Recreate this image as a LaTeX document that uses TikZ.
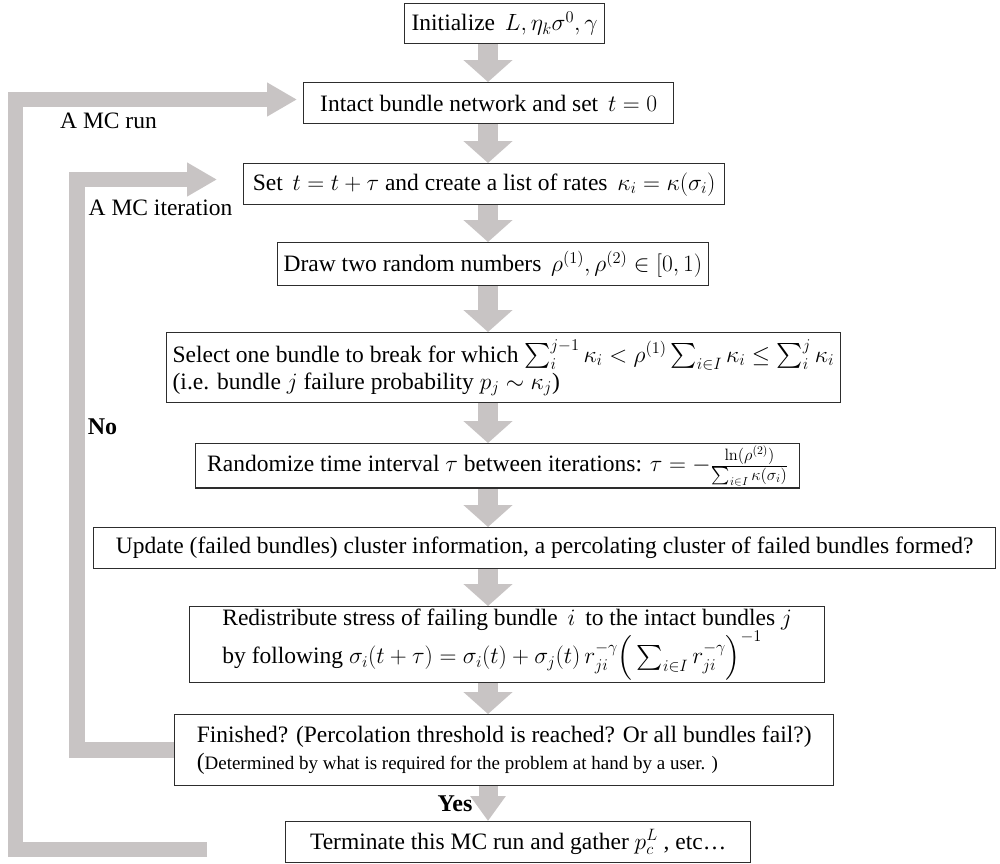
\RequirePackage{fix-cm}
\documentclass[tikz,border=0pt]{standalone}
\usepackage{amsmath}
\usepackage[no-math]{fontspec}
\setmainfont{Liberation Serif}
\usetikzlibrary{arrows.meta,backgrounds}
\definecolor{arrowgray}{RGB}{200,196,196}
\definecolor{boxline}{RGB}{45,45,45}
\tikzset{
  box/.style={draw=boxline, line width=1.3pt, anchor=north west, inner xsep=6pt, inner ysep=2pt,
    font=\fontsize{23.5}{27}\selectfont},
  flow/.style={draw=arrowgray, line width=20pt, -{Triangle[width=48pt,length=22pt]}},
  lastflow/.style={draw=arrowgray, line width=19pt, -{Triangle[width=34pt,length=25pt]}},
  loopbar/.style={draw=arrowgray, line width=15.5pt, line join=miter, -{Triangle[width=32pt,length=30pt]}},
  lbl/.style={font=\fontsize{23.5}{27}\selectfont},
  boldlbl/.style={font=\fontsize{24}{27}\selectfont\bfseries},
}
\begin{document}
\begin{tikzpicture}[x=1pt,y=-1pt]
\useasboundingbox (0,0) rectangle (1000,863);
% boxes
\node[box, minimum width=200pt, minimum height=40pt] (init) at (404,3) {Initialize $\,L,\eta_k\sigma^0,\gamma$};
\node[box, minimum width=370pt, minimum height=41pt] (intact) at (303,82) {Intact bundle network and set $\,t=0$};
\node[box, minimum width=481pt, minimum height=41pt] (set) at (243,163) {Set $\,t=t+\tau$ and create a list of rates $\,\kappa_i=\kappa(\sigma_i)$};
\node[box, minimum width=420pt, minimum height=43pt] (drawn) at (277,242) {Draw two random numbers $\,\rho^{(1)},\rho^{(2)}\in[0,1)$};
\node[box, minimum width=672pt, minimum height=70pt, align=left] (select) at (166,332) {Select one bundle to break for which $\sum_i^{j-1}\kappa_i<\rho^{(1)}\sum_{i\in I}\kappa_i\le\sum_i^{j}\kappa_i$\\(i.e. bundle $j$ failure probability $p_j\sim\kappa_j$)};
\node[box, minimum width=604pt, minimum height=41pt] (rand) at (195,443) {Randomize time interval $\tau$ between iterations: $\tau=-\frac{\ln(\rho^{(2)})}{\sum_{i\in I}\kappa(\sigma_i)}$};
\node[box, minimum width=902pt, minimum height=41pt] (update) at (93,527) {Update (failed bundles) cluster information, a percolating cluster of failed bundles formed?};
\node[box, minimum width=635pt, minimum height=70pt, align=left] (redis) at (189,606) {Redistribute stress of failing bundle $\,i\,$ to the intact bundles $j$\\by following $\sigma_i(t+\tau)=\sigma_i(t)+\sigma_j(t)\,r_{ji}^{-\gamma}\Big(\sum_{i\in I}r_{ji}^{-\gamma}\Big)^{-1}$};
\node[box, minimum width=659pt, minimum height=71pt, align=left] (fin) at (174,714) {Finished? (Percolation threshold is reached? Or all bundles fail?)\\({\fontsize{19}{23}\selectfont Determined by what is required for the problem at hand by a user. )}};
\node[box, minimum width=465pt, minimum height=41pt] (term) at (285,821) {Terminate this MC run and gather $p_c^L$ , etc…};
% coordinates
\coordinate (ax) at (488,0);
\coordinate (itCorner) at (77,179.5);
\coordinate (itTip) at (217,179.5);
\coordinate (runEnd) at (207,849.5);
\coordinate (runCorner) at (15.5,99.5);
\coordinate (runTip) at (297,99.5);
% connectors
\begin{scope}[on background layer]
\draw[flow] (init.south -| ax) -- (intact.north -| ax);
\draw[flow] (intact.south -| ax) -- (set.north -| ax);
\draw[flow] (set.south -| ax) -- (drawn.north -| ax);
\draw[flow] (drawn.south -| ax) -- (select.north -| ax);
\draw[flow] (select.south -| ax) -- (rand.north -| ax);
\draw[flow] (rand.south -| ax) -- (update.north -| ax);
\draw[flow] (update.south -| ax) -- (redis.north -| ax);
\draw[flow] (redis.south -| ax) -- (fin.north -| ax);
\draw[lastflow] (fin.south -| ax) -- (term.north -| ax);
\draw[loopbar] (fin.west) -| (itCorner) -- (itTip);
\draw[loopbar] (runEnd) -| (runCorner) -- (runTip);
\end{scope}
% labels
\node[lbl] (runlbl) at (108.5,121) {A MC run};
\node[lbl] (itlbl) at (160.5,208) {A MC iteration};
\node[boldlbl] (nolbl) at (102.5,427) {No};
\node[boldlbl] (yeslbl) at (455,804) {Yes};
\end{tikzpicture}
\end{document}
